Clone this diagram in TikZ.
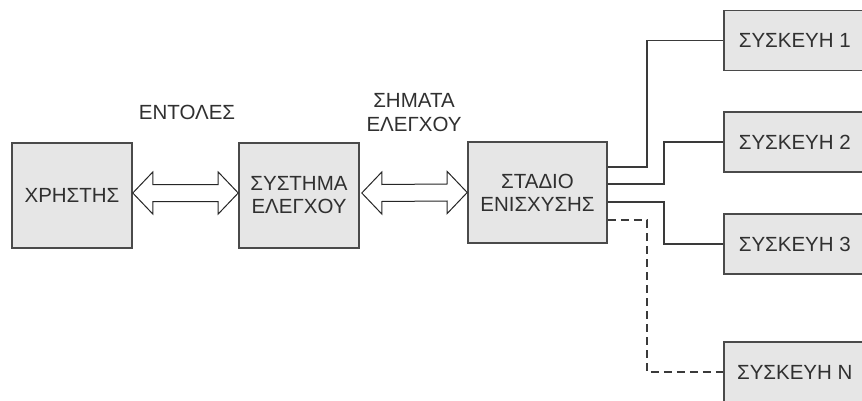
\documentclass[tikz,border=0pt]{standalone}
\usepackage{fontspec}
\setmainfont{Liberation Sans}
\usetikzlibrary{calc}
\definecolor{boxfill}{HTML}{E6E6E6}
\definecolor{boxline}{HTML}{4A4A4A}
\definecolor{txt}{HTML}{303030}
\definecolor{wire}{HTML}{3A3A3A}
\newcommand\dblarr[2]{%
  \draw[dbl] (#1) -- ($(#1)+(20,-21)$) -- ($(#1)+(20,-8.5)$) -- ($(#2)+(-20,-8.5)$) -- ($(#2)+(-20,-21)$) -- (#2)
    -- ($(#2)+(-20,21)$) -- ($(#2)+(-20,8.5)$) -- ($(#1)+(20,8.5)$) -- ($(#1)+(20,21)$) -- cycle;}
\begin{document}
\begin{tikzpicture}[x=1pt,y=-1pt,
  box/.style={draw=boxline, fill=boxfill, line width=1.6pt, inner sep=0pt, align=center,
    text=txt, font=\fontsize{20.5}{23}\selectfont},
  devbox/.style={box, anchor=west, minimum width=142pt, minimum height=60pt},
  lbl/.style={text=txt, align=center, font=\fontsize{20.5}{24.5}\selectfont},
  dbl/.style={draw=black!85, fill=white, line width=1pt, line join=miter},
  conn/.style={draw=wire, line width=1.6pt},
  dconn/.style={conn, dash pattern=on 8pt off 5pt}]
\clip (0,0) rectangle (862,401);
\fill[white] (0,0) rectangle (862,401);
\node[box, minimum width=120pt, minimum height=105pt] (user) at (72,195.5) {ΧΡΗΣΤΗΣ};
\node[box, minimum width=120pt, minimum height=105pt] (ctrl) at (299,195.5) {ΣΥΣΤΗΜΑ\\ΕΛΕΓΧΟΥ};
\node[box, minimum width=139pt, minimum height=101pt] (amp) at (537.5,192.5) {ΣΤΑΔΙΟ\\ΕΝΙΣΧΥΣΗΣ};
\node[devbox] (d1) at (723,40.5) {ΣΥΣΚΕΥΗ 1};
\node[devbox] (d2) at (723,142) {ΣΥΣΚΕΥΗ 2};
\node[devbox] (d3) at (723,244) {ΣΥΣΚΕΥΗ 3};
\node[devbox] (dn) at (723,372) {ΣΥΣΚΕΥΗ N};
\node[lbl] (l1) at (187,112.5) {ΕΝΤΟΛΕΣ};
\node[lbl] (l2) at (414,112.5) {ΣΗΜΑΤΑ\\ΕΛΕΓΧΟΥ};
\coordinate (a1l) at ($(user.east)+(0,-2.5)$);
\coordinate (a1r) at ($(ctrl.west)+(0,-2.5)$);
\coordinate (a2l) at ($(ctrl.east)+(2,-2.5)$);
\coordinate (a2r) at (amp.west);
\dblarr{a1l}{a1r}
\dblarr{a2l}{a2r}
\draw[conn] ([yshift=25.5pt]amp.east) -- ++(39,0) |- (d1.west);
\draw[conn] ([yshift=8.5pt]amp.east) -- ++(56,0) |- (d2.west);
\draw[conn] ([yshift=-9.5pt]amp.east) -- ++(56,0) |- (d3.west);
\draw[dconn] ([yshift=-27.5pt]amp.east) -- ++(39,0) |- (dn.west);
\end{tikzpicture}
\end{document}
